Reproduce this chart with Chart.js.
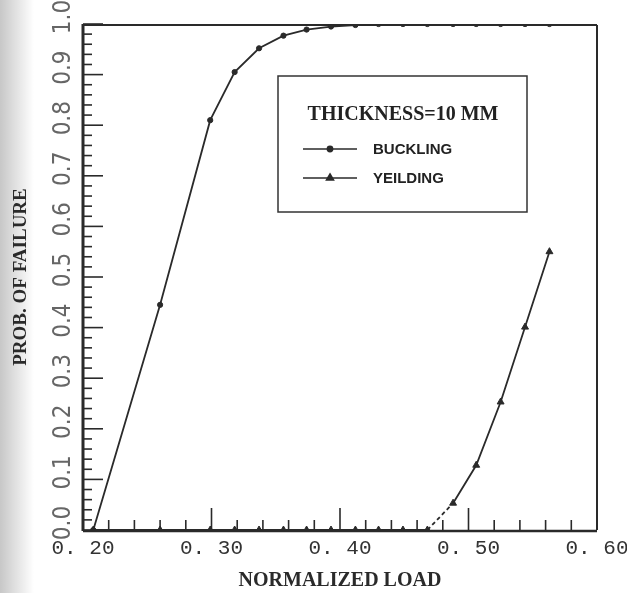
<!DOCTYPE html>
<html>
<head>
<meta charset="utf-8">
<script src="https://cdn.jsdelivr.net/npm/chart.js@4.4.1/dist/chart.umd.min.js"></script>
<style>
html,body{margin:0;padding:0;background:#fff;}
canvas{display:block;}
</style>
</head>
<body>
<canvas id="c" width="627" height="593"></canvas>
<script>
// ---- data ----
const normalizedLoad = [0.208,0.260,0.299,0.318,0.337,0.356,0.374,0.393,0.412,0.430,0.449,0.468,0.488,0.506,0.525,0.544,0.563];
const bucklingProb   = [0,0.445,0.81,0.905,0.952,0.977,0.989,0.995,0.998,1,1,1,1,1,1,1,1];
const yieldingProb   = [0,0,0,0,0,0,0,0,0,0,0,0,0.053,0.128,0.253,0.401,0.550];
const seriesNames    = ['BUCKLING','YEILDING'];
const legendTitle    = 'THICKNESS=10 MM';
const xTickLabels    = ['0. 20','0. 30','0. 40','0. 50','0. 60'];
const yTickLabels    = ['0.0','0.1','0.2','0.3','0.4','0.5','0.6','0.7','0.8','0.9','1.0'];
const xTitle         = 'NORMALIZED LOAD';
const yTitle         = 'PROB. OF FAILURE';

const INK = '#2a2a2a';

const toPoints = (ys) => normalizedLoad.map((x, i) => ({x, y: ys[i]}));

const shadePlugin = {
  id: 'shade',
  beforeDraw(chart) {
    const ctx = chart.ctx;
    ctx.save();
    ctx.fillStyle = '#fff';
    ctx.fillRect(0, 0, chart.width, chart.height);
    const g = ctx.createLinearGradient(0, 0, 34, 0);
    g.addColorStop(0, 'rgba(0,0,0,0.22)');
    g.addColorStop(1, 'rgba(0,0,0,0)');
    ctx.fillStyle = g;
    ctx.fillRect(0, 0, 34, chart.height);
    ctx.restore();
  }
};

const frameTicksPlugin = {
  id: 'frameTicks',
  beforeDatasetsDraw(chart) {
    const {ctx, chartArea: a, scales: {x, y}} = chart;
    ctx.save();
    ctx.strokeStyle = INK;
    ctx.lineWidth = 1.6;
    const line = (x1, y1, x2, y2) => { ctx.beginPath(); ctx.moveTo(x1, y1); ctx.lineTo(x2, y2); ctx.stroke(); };
    // inward ticks on y axis (every 0.02, long every 0.1)
    for (let k = 0; k <= 50; k++) {
      const py = y.getPixelForValue(k / 50);
      line(a.left, py, a.left + (k % 5 === 0 ? 20 : 9), py);
    }
    // inward ticks on x axis (every 0.02, long every 0.1)
    for (let k = 0; k <= 20; k++) {
      const px = x.getPixelForValue(x.min + k * 0.02);
      line(px, a.bottom, px, a.bottom - (k % 5 === 0 ? 22 : 10));
    }
    // frame
    ctx.lineWidth = 1.8;
    line(a.left, a.top + 1, a.right, a.top + 1);
    ctx.lineWidth = 2;
    line(a.right, a.top + 1, a.right, a.bottom);
    ctx.lineWidth = 3;
    line(a.left, a.top, a.left, a.bottom + 1);
    ctx.lineWidth = 2.5;
    line(a.left, a.bottom + 1, a.right, a.bottom + 1);
    ctx.restore();
  }
};

const legendBoxPlugin = {
  id: 'legendBox',
  afterDatasetsDraw(chart) {
    const ctx = chart.ctx;
    const bx = 278, by = 76, bw = 249, bh = 136;
    ctx.save();
    ctx.fillStyle = '#fff';
    ctx.fillRect(bx, by, bw, bh);
    ctx.strokeStyle = '#333';
    ctx.lineWidth = 1.5;
    ctx.strokeRect(bx, by, bw, bh);
    ctx.fillStyle = '#222';
    ctx.font = 'bold 20px "Liberation Serif", serif';
    ctx.textAlign = 'center';
    ctx.textBaseline = 'middle';
    ctx.fillText(legendTitle, 403, 115);
    chart.data.datasets.forEach((ds, i) => {
      const ly = 149 + i * 29;
      ctx.strokeStyle = ds.borderColor;
      ctx.lineWidth = 1.6;
      ctx.beginPath(); ctx.moveTo(303, ly); ctx.lineTo(357, ly); ctx.stroke();
      ctx.fillStyle = ds.backgroundColor;
      Chart.helpers.drawPoint(ctx, {pointStyle: ds.pointStyle, radius: ds.pointRadius, rotation: 0, borderWidth: 1}, 330, ly);
      ctx.fillStyle = '#222';
      ctx.font = 'bold 15px "Liberation Sans", sans-serif';
      ctx.textAlign = 'left';
      ctx.fillText(ds.label, 373, ly + 1);
    });
    ctx.restore();
  }
};

new Chart(document.getElementById('c'), {
  type: 'line',
  data: {
    datasets: [
      {
        label: seriesNames[0],
        data: toPoints(bucklingProb),
        borderColor: INK, backgroundColor: INK,
        borderWidth: 1.8, pointStyle: 'circle', pointRadius: 2.6, pointBorderWidth: 1,
        tension: 0, fill: false
      },
      {
        label: seriesNames[1],
        data: toPoints(yieldingProb),
        borderColor: INK, backgroundColor: INK,
        borderWidth: 1.8, pointStyle: 'triangle', pointRadius: 4, pointBorderWidth: 1,
        tension: 0, fill: false,
        segment: { borderDash: c => (c.p0DataIndex === 11 ? [4, 3] : undefined) }
      }
    ]
  },
  options: {
    responsive: false,
    animation: false,
    layout: { padding: { left: 0, top: 24, right: 30, bottom: 0 } },
    plugins: { legend: { display: false }, tooltip: { enabled: false } },
    scales: {
      x: {
        type: 'linear', min: 0.2, max: 0.6,
        grid: { display: false, drawTicks: false },
        border: { display: false },
        ticks: {
          stepSize: 0.1, autoSkip: false, maxRotation: 0, padding: 6,
          callback: (v, i) => xTickLabels[i],
          font: { family: '"Liberation Mono", monospace', size: 21 },
          color: '#333'
        },
        title: {
          display: true, text: xTitle, color: '#2a2a2a',
          font: { family: '"Liberation Serif", serif', size: 20, weight: 'bold' },
          padding: { top: 0, bottom: 0 }
        },
        afterFit: s => { s.height = 63; s.paddingLeft = 0; s.paddingRight = 0; }
      },
      y: {
        type: 'linear', min: 0, max: 1,
        grid: { display: false, drawTicks: false },
        border: { display: false },
        ticks: {
          stepSize: 0.1, autoSkip: false, minRotation: 90, maxRotation: 90,
          crossAlign: 'center', labelOffset: -7, padding: 2,
          callback: (v, i) => yTickLabels[i],
          font: { family: '"Liberation Sans Narrow", "DejaVu Sans Condensed", "Liberation Sans", sans-serif', size: 24 },
          color: '#666'
        },
        title: {
          display: true, text: yTitle, color: '#2a2a2a',
          font: { family: '"Liberation Serif", serif', size: 19, weight: 'bold' },
          padding: { top: 10, bottom: 0 }
        },
        afterFit: s => { s.width = 83; s.paddingTop = 0; s.paddingBottom = 0; }
      }
    }
  },
  plugins: [shadePlugin, frameTicksPlugin, legendBoxPlugin]
});
</script>
</body>
</html>
